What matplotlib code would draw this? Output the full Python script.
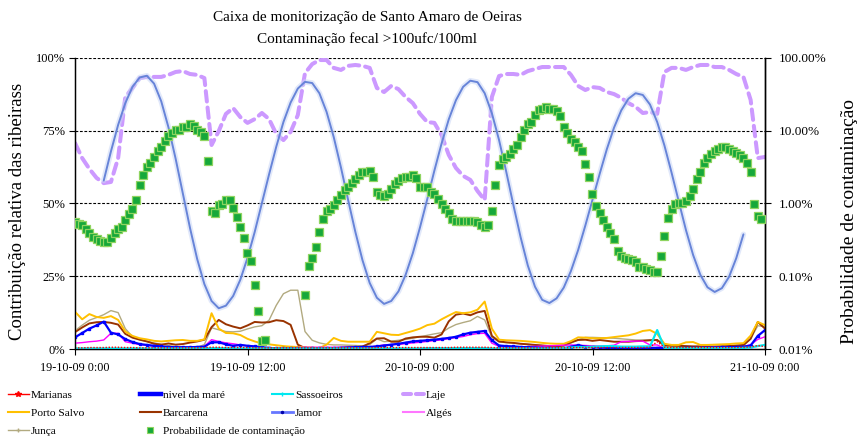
import numpy as np
import matplotlib
matplotlib.use("Agg")
import matplotlib.pyplot as plt
from matplotlib.lines import Line2D
from matplotlib.ticker import FixedLocator, FixedFormatter, NullLocator

plt.rcParams['font.family'] = ['Liberation Serif', 'DejaVu Serif']

# ---------------- text / ticks ----------------
title_lines = ["Caixa de monitorização de Santo Amaro de Oeiras",
               "Contaminação fecal >100ufc/100ml"]
left_label = "Contribuição relativa das ribeirass"
right_label = "Probabilidade de contaminação"
x_tick_hours = [0, 12, 24, 36, 48]
x_tick_labels = ["19-10-09 0:00", "19-10-09 12:00", "20-10-09 0:00",
                 "20-10-09 12:00", "21-10-09 0:00"]
left_ticks = [0, 25, 50, 75, 100]
left_tick_labels = ["0%", "25%", "50%", "75%", "100%"]
right_ticks = [0.01, 0.1, 1, 10, 100]
right_tick_labels = ["0.01%", "0.10%", "1.00%", "10.00%", "100.00%"]

# ---------------- data ----------------
line_step_h = 0.5      # stream series, every 30 min from 19-10 0:00
prob_step_h = 0.25     # contamination probability, every 15 min
tide_start_h = 2.0     # tide series starts at 2:00, every 30 min

laje = [70.8, 65.6, 61.9, 58.8, 57.0, 57.4, 65.6, 86.6, 89.7, 93.1,
        93.5, 93.5, 93.5, 94.2, 95.2, 95.5, 94.5, 94.2, 93.1, 70.1,
        74.9, 80.8, 82.8, 79.7, 77.7, 79.0, 81.1, 79.0, 73.9, 71.8,
        74.6, 80.4, 94.8, 97.9, 99.3, 99.3, 96.6, 95.9, 97.3, 97.6,
        97.3, 96.6, 89.7, 88.3, 90.4, 89.3, 86.6, 84.5, 80.8, 78.0,
        77.7, 73.5, 66.7, 62.2, 59.5, 58.1, 54.3, 51.2, 86.6, 93.8,
        94.5, 94.5, 94.2, 95.5, 96.2, 96.9, 96.9, 96.9, 96.9, 94.2,
        90.4, 89.0, 90.0, 89.7, 88.3, 87.6, 86.3, 84.5, 83.2, 81.1,
        81.4, 80.8, 95.2, 96.6, 96.6, 95.9, 96.9, 97.6, 97.6, 96.9,
        96.9, 95.9, 94.5, 93.5, 85.6, 65.6, 66.0]

porto_salvo = [12.8, 10.2, 12.0, 11.0, 10.7, 11.3, 10.0, 6.0, 4.5, 3.7,
               3.3, 2.8, 2.6, 2.8, 3.0, 3.1, 2.8, 2.8, 3.3, 12.3,
               7.0, 5.5, 5.4, 4.8, 3.5, 2.6, 1.9, 1.6, 1.3, 1.0,
               0.8, 0.7, 0.6, 0.5, 0.3, 1.5, 3.8, 2.8, 2.5, 2.5,
               2.5, 2.5, 5.9, 5.4, 4.9, 4.8, 5.5, 6.2, 7.0, 8.2,
               8.7, 10.2, 11.5, 12.7, 12.3, 12.6, 13.5, 16.3, 7.0, 3.2,
               3.0, 2.9, 2.8, 2.6, 2.4, 2.1, 1.9, 1.8, 1.8, 2.7,
               4.0, 3.9, 3.7, 3.7, 3.8, 4.1, 4.4, 4.7, 5.3, 6.2,
               6.5, 5.2, 1.8, 1.4, 1.4, 2.3, 2.4, 1.4, 1.4, 1.5,
               1.6, 1.7, 1.9, 2.0, 4.6, 9.3, 8.2]

barcarena = [5.8, 7.4, 8.8, 9.2, 9.3, 9.0, 8.4, 5.2, 3.9, 3.2,
             2.6, 1.8, 1.5, 1.9, 1.5, 1.7, 2.2, 2.6, 3.2, 7.5,
             10.0, 8.5, 7.7, 7.1, 8.1, 9.3, 9.1, 9.2, 9.9, 9.6,
             8.3, 1.5, 0.3, 0.2, 0.2, 0.2, 0.3, 0.4, 0.6, 0.7,
             0.8, 2.0, 3.6, 3.7, 2.5, 2.5, 3.6, 4.0, 4.2, 4.2,
             3.9, 5.0, 9.5, 11.8, 12.2, 11.6, 12.6, 13.1, 4.5, 2.6,
             2.3, 2.1, 1.8, 1.6, 1.4, 1.2, 1.0, 0.9, 1.2, 2.3,
             3.1, 3.2, 2.8, 3.1, 2.8, 2.5, 2.5, 2.5, 2.7, 2.8,
             3.0, 3.1, 1.3, 1.2, 1.1, 1.0, 0.9, 0.9, 0.8, 0.8,
             0.9, 1.0, 1.2, 1.4, 3.5, 9.3, 7.0]

junca = [6.3, 8.2, 9.9, 10.8, 11.8, 13.2, 12.5, 7.0, 4.2, 3.2,
         2.6, 2.1, 1.6, 1.2, 0.8, 0.7, 0.7, 0.6, 1.5, 7.3,
         6.6, 6.0, 5.9, 6.1, 6.9, 7.6, 8.0, 9.9, 15.0, 19.0,
         20.2, 20.2, 6.0, 3.0, 2.1, 1.6, 1.4, 1.4, 1.3, 1.2,
         1.1, 1.5, 3.5, 2.5, 2.7, 3.0, 3.3, 3.7, 4.2, 4.7,
         5.2, 5.6, 7.2, 8.4, 9.1, 9.7, 11.2, 10.0, 4.0, 2.4,
         2.2, 2.0, 1.8, 1.6, 1.4, 1.2, 1.1, 1.0, 1.0, 2.0,
         3.2, 4.0, 4.0, 3.9, 3.8, 3.7, 3.5, 3.3, 3.1, 3.1,
         3.1, 3.1, 0.9, 0.8, 0.8, 0.8, 0.8, 0.9, 0.9, 0.9,
         1.0, 1.0, 1.0, 1.1, 3.5, 8.0, 7.7]

jamor = [4.0, 5.5, 7.0, 8.1, 9.4, 5.6, 5.0, 3.4, 2.4, 1.7,
         1.4, 1.1, 0.9, 0.7, 0.6, 0.6, 0.6, 0.7, 0.8, 2.3,
         2.3, 1.6, 1.1, 1.4, 1.1, 0.9, 0.6, 0.4, 0.2, 0.2,
         0.2, 0.2, 0.2, 0.2, 0.2, 0.2, 0.3, 0.4, 0.5, 0.6,
         0.7, 0.7, 0.9, 1.2, 1.5, 1.8, 2.2, 2.6, 2.8, 3.0,
         3.2, 3.5, 3.8, 4.2, 5.0, 5.6, 5.9, 6.2, 3.0, 1.2,
         1.0, 0.9, 0.7, 0.6, 0.5, 0.4, 0.3, 0.2, 0.2, 0.8,
         1.3, 0.8, 0.6, 0.5, 0.4, 0.4, 0.4, 0.4, 0.4, 0.4,
         0.4, 0.4, 0.3, 0.3, 0.3, 0.4, 0.4, 0.4, 0.5, 0.5,
         0.6, 0.6, 0.7, 0.8, 1.2, 4.5, 6.5]

alges = [2.0, 2.2, 2.5, 2.7, 3.1, 5.4, 5.4, 2.5, 2.0, 1.5,
         1.2, 1.0, 0.8, 0.7, 0.7, 0.6, 0.6, 0.7, 0.9, 3.2,
         2.6, 2.1, 1.8, 1.4, 1.1, 0.9, 0.6, 0.3, 0.2, 0.3,
         0.4, 0.5, 0.6, 0.6, 0.6, 0.6, 0.6, 0.6, 0.6, 0.7,
         0.7, 0.7, 1.0, 1.4, 1.5, 1.6, 1.8, 2.1, 2.3, 2.6,
         2.9, 3.1, 3.6, 3.9, 4.3, 4.9, 5.3, 5.4, 2.0, 0.9,
         0.7, 0.6, 0.7, 0.8, 0.9, 1.0, 1.1, 1.2, 1.3, 1.4,
         1.3, 1.2, 1.1, 1.0, 1.1, 1.3, 2.5, 2.6, 2.7, 2.7,
         1.4, 1.4, 0.2, 0.3, 0.3, 0.4, 0.4, 0.5, 0.5, 0.6,
         0.6, 0.7, 0.7, 0.8, 1.5, 3.3, 4.2]

marianas = [0.4, 0.4, 0.5, 0.5, 0.5, 0.6, 0.6, 0.5, 0.5, 0.4,
            0.4, 0.4, 0.4, 0.4, 0.4, 0.4, 0.4, 0.4, 0.5, 0.6,
            0.6, 0.5, 0.5, 0.5, 0.5, 0.4, 0.4, 0.4, 0.4, 0.4,
            0.4, 0.4, 0.4, 0.4, 0.4, 0.4, 0.4, 0.4, 0.4, 0.4,
            0.4, 0.4, 0.5, 0.5, 0.5, 0.5, 0.5, 0.5, 0.5, 0.5,
            0.5, 0.5, 0.5, 0.6, 0.6, 0.6, 0.6, 0.6, 0.5, 0.4,
            0.4, 0.4, 0.4, 0.4, 0.4, 0.4, 0.4, 0.4, 0.4, 0.5,
            0.5, 0.5, 0.5, 0.5, 0.5, 0.5, 0.5, 0.5, 0.5, 0.5,
            0.6, 2.5, 0.6, 0.5, 0.5, 0.5, 0.5, 0.5, 0.5, 0.5,
            0.5, 0.5, 0.5, 0.6, 0.7, 1.2, 0.8]

sassoeiros = [0.2, 0.2, 0.2, 0.2, 0.2, 0.2, 0.2, 0.2, 0.2, 0.2,
              0.2, 0.2, 0.2, 0.2, 0.2, 0.2, 0.2, 0.2, 0.2, 0.3,
              0.3, 0.3, 0.2, 0.2, 0.2, 0.2, 0.2, 0.2, 0.2, 0.2,
              0.2, 0.2, 0.2, 0.2, 0.2, 0.2, 0.2, 0.2, 0.2, 0.2,
              0.2, 0.2, 0.2, 0.2, 0.2, 0.2, 0.2, 0.2, 0.2, 0.3,
              0.3, 0.3, 0.3, 0.3, 0.3, 0.3, 0.3, 0.3, 0.2, 0.2,
              0.2, 0.2, 0.2, 0.2, 0.2, 0.2, 0.2, 0.2, 0.3, 0.5,
              0.7, 0.6, 0.8, 0.9, 1.0, 1.0, 0.8, 0.8, 0.8, 0.9,
              0.9, 6.5, 0.4, 0.3, 0.3, 0.3, 0.3, 0.3, 0.3, 0.3,
              0.3, 0.3, 0.3, 0.4, 0.5, 1.0, 1.4]

tide = [57.9, 67.9, 77.0, 84.5, 90.1, 93.3, 93.9, 91.2, 85.1, 76.2,
        65.4, 53.5, 41.6, 30.9, 22.3, 16.5, 14.0, 14.9, 18.2, 23.8,
        31.3, 40.2, 50.1, 60.0, 69.5, 78.0, 84.7, 89.5, 91.8, 91.4,
        87.9, 81.5, 72.8, 62.4, 51.2, 40.3, 30.5, 22.7, 17.6, 15.5,
        16.5, 19.8, 25.5, 32.9, 41.8, 51.4, 61.3, 70.6, 78.9, 85.5,
        90.1, 92.2, 91.7, 87.9, 81.0, 71.8, 60.9, 49.4, 38.4, 28.7,
        21.4, 16.9, 15.8, 17.4, 21.1, 26.8, 34.0, 42.4, 51.3, 60.2,
        68.7, 76.1, 82.0, 86.0, 87.9, 87.3, 84.0, 78.0, 70.0, 60.6,
        50.7, 40.9, 32.3, 25.5, 21.2, 19.6, 20.9, 24.8, 31.2, 39.4]

nan = float('nan')
probabilidade = [0.55, 0.53, 0.50, 0.44, 0.39, 0.35, 0.33, 0.31, 0.30, 0.30,
                 0.34, 0.39, 0.44, 0.48, 0.60, 0.71, 0.83, 1.13, 1.77, 2.50,
                 3.13, 3.66, 4.29, 5.19, 5.89, 7.12, 8.34, 9.17, 10.1, 10.4,
                 11.1, 11.4, 12.2, 11.8, 10.4, 9.76, 8.34, 3.78, 0.78, 0.73,
                 0.94, 0.97, 1.10, 1.13, 0.88, 0.66, 0.48, 0.34, 0.21, 0.16,
                 0.077, 0.033, 0.0127, 0.0135, nan, nan, nan, nan, nan, nan,
                 nan, nan, nan, nan, 0.056, 0.14, 0.18, 0.25, 0.40, 0.62,
                 0.78, 0.85, 0.94, 1.10, 1.29, 1.51, 1.71, 1.94, 2.14, 2.43,
                 2.67, 2.75, 2.84, 2.28, 1.46, 1.29, 1.25, 1.33, 1.56, 1.83,
                 2.07, 2.21, 2.35, 2.35, 2.43, 2.21, 1.71, 1.66, 1.66, 1.46,
                 1.33, 1.17, 0.97, 0.85, 0.73, 0.62, 0.57, 0.57, 0.57, 0.57,
                 0.57, 0.57, 0.55, 0.50, 0.48, 0.51, 0.78, 1.77, 3.33, 4.03,
                 4.29, 4.72, 5.53, 6.47, 8.08, 10.4, 12.2, 13.4, 16.7, 19.0,
                 20.2, 20.9, 20.2, 19.6, 18.4, 15.7, 11.4, 9.17, 7.82, 6.90,
                 5.89, 5.19, 3.44, 2.28, 1.37, 0.91, 0.75, 0.60, 0.48, 0.39,
                 0.33, 0.22, 0.19, 0.18, 0.175, 0.165, 0.155, 0.136, 0.132, 0.124,
                 0.120, 0.116, 0.113, 0.19, 0.36, 0.64, 0.83, 0.97, 1.0, 1.0,
                 1.07, 1.25, 1.56, 2.14, 2.75, 3.55, 4.16, 4.72, 5.19, 5.53,
                 5.89, 5.89, 5.70, 5.19, 4.87, 4.57, 4.16, 3.66, 2.75, 0.97,
                 0.68, 0.62, nan]

def hours(series, step, start=0.0):
    return start + np.arange(len(series)) * step

# ---------------- colours ----------------
c_ps, c_ba, c_ju = '#ffc000', '#993300', '#b2aa80'
c_ja, c_al, c_ma = '#0000ff', '#ff00ff', '#ff0000'
c_sa, c_lj = '#00e8f0', '#cc99ff'
c_tide, c_halo = '#6784d8', '#c9d6f6'
c_green, c_green_edge = '#16a83a', '#8fd460'

# ---------------- figure ----------------
W, H = 857, 436
fig = plt.figure(figsize=(W / 100, H / 100), dpi=100)
ax = fig.add_axes([75 / W, 1 - 349 / H, 690 / W, 291 / H])
ax.set_xlim(0, 48)
ax.set_ylim(0, 100)

for v in left_ticks[1:]:
    ax.axhline(v, color='black', lw=0.8, ls=(0, (2.5, 1.5)), zorder=0.5)

# Laje (dashed)
ax.plot(hours(laje, line_step_h), laje, color=c_lj, lw=2.9,
        dashes=(2.6, 1.5), dash_capstyle='round', zorder=2)
# tide sinusoid with soft glow
th = hours(tide, line_step_h, tide_start_h)
ax.plot(th, tide, color=c_halo, lw=4.0, alpha=0.55, solid_capstyle='round', zorder=2.2)
ax.plot(th, tide, color=c_tide, lw=1.4, solid_capstyle='round', zorder=2.3)

tl = hours(porto_salvo, line_step_h)
ax.plot(tl, junca, color=c_ju, lw=1.0, zorder=3)
ax.plot(tl, barcarena, color=c_ba, lw=1.4, zorder=3.1)
ax.plot(tl, porto_salvo, color=c_ps, lw=1.4, zorder=3.2)
ax.plot(tl, alges, color=c_al, lw=1.0, zorder=3.3)
ax.plot(tl, jamor, color=c_ja, lw=1.6, marker='s', ms=1.6, zorder=3.4)
ax.plot(tl, sassoeiros, color=c_sa, lw=1.6, zorder=3.5)
ax.plot(tl, marianas, color=c_ma, lw=1.0, ls=(0, (1, 1.2)), zorder=3.6)

ax.spines['top'].set_visible(False)
for s in ('left', 'right', 'bottom'):
    ax.spines[s].set_color('black')
    ax.spines[s].set_linewidth(1.0)

ax.xaxis.set_major_locator(FixedLocator(x_tick_hours))
ax.xaxis.set_major_formatter(FixedFormatter(x_tick_labels))
ax.yaxis.set_major_locator(FixedLocator(left_ticks))
ax.yaxis.set_major_formatter(FixedFormatter(left_tick_labels))
ax.tick_params(axis='x', direction='out', length=4, width=0.8, pad=5, labelsize=8.7)
ax.tick_params(axis='y', direction='out', length=4, width=0.8, pad=3, labelsize=9)

# probability on log right axis
ax2 = ax.twinx()
ax2.set_yscale('log')
ax2.set_ylim(0.01, 100)
ax2.plot(hours(probabilidade, prob_step_h), probabilidade, ls='none', marker='s',
         ms=5.6, mfc=c_green, mec=c_green_edge, mew=0.9, zorder=5)
ax2.yaxis.set_major_locator(FixedLocator(right_ticks))
ax2.yaxis.set_major_formatter(FixedFormatter(right_tick_labels))
ax2.yaxis.set_minor_locator(NullLocator())
ax2.tick_params(axis='y', direction='out', length=4, width=0.8, pad=6, labelsize=9.5)
ax2.spines['top'].set_visible(False)
ax2.spines['right'].set_linewidth(1.0)

# titles and axis labels
fig.text(367 / W, 1 - 18 / H, title_lines[0], ha='center', va='center', fontsize=11)
fig.text(367 / W, 1 - 39 / H, title_lines[1], ha='center', va='center', fontsize=11)
fig.text(18 / W, 1 - 211 / H, left_label, rotation=90, ha='center', va='center', fontsize=13.5)
fig.text(850 / W, 1 - 221 / H, right_label, rotation=90, ha='center', va='center', fontsize=14)

# legend (4 columns, row-wise like the original)
h_ma = Line2D([], [], color=c_ma, lw=1, marker='*', ms=4)
h_tide = Line2D([], [], color='#0000ff', lw=3.2)
h_sa = Line2D([], [], color=c_sa, lw=1.5, marker='|', ms=3)
h_lj = Line2D([], [], color=c_lj, lw=2.9, dashes=(2.0, 1.2), dash_capstyle='round')
h_ps = Line2D([], [], color=c_ps, lw=1.5)
h_ba = Line2D([], [], color=c_ba, lw=1.5)
h_ja = Line2D([], [], color='#6677ff', lw=2, marker='.', ms=3, mfc='#0000aa', mec='#0000aa')
h_al = Line2D([], [], color='#ff77ff', lw=1.5)
h_ju = Line2D([], [], color=c_ju, lw=1, marker='+', ms=3)
h_pr = Line2D([], [], ls='none', marker='s', ms=5, mfc=c_green, mec=c_green_edge, mew=0.8)

columns = [
    ([h_ma, h_ps, h_ju], ["Marianas", "Porto Salvo", "Junça"], 8),
    ([h_tide, h_ba, h_pr], ["nivel da maré", "Barcarena", "Probabilidade de contaminação"], 140),
    ([h_sa, h_ja], ["Sassoeiros", "Jamor"], 272),
    ([h_lj, h_al], ["Laje", "Algés"], 403),
]
for hs, labs, x0 in columns:
    fig.legend(hs, labs, loc='upper left', bbox_to_anchor=(x0 / W, 1 - 390 / H),
               frameon=False, fontsize=8.2, handlelength=1.8, handletextpad=0.2,
               labelspacing=0.72, borderpad=0, borderaxespad=0)

fig.savefig('out.png', dpi=100)
